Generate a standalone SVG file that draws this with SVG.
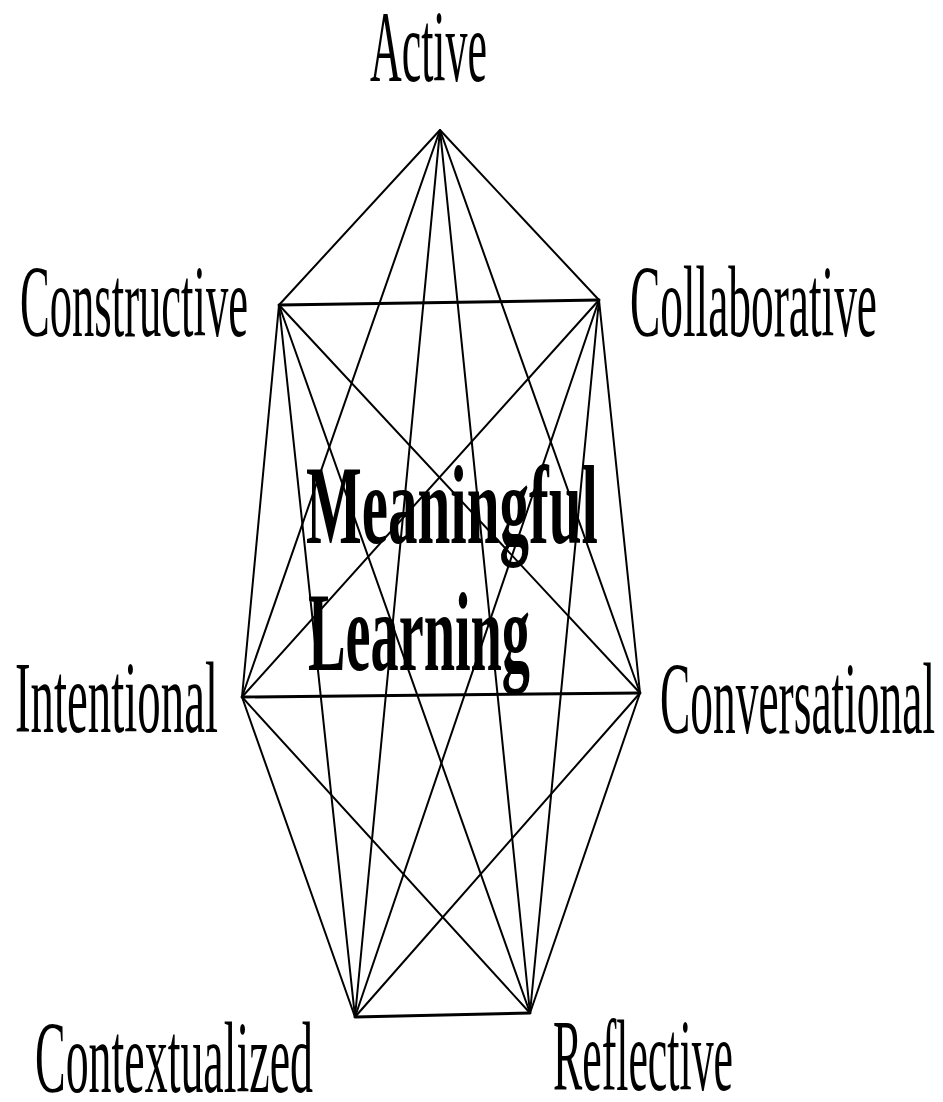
<svg xmlns="http://www.w3.org/2000/svg" width="943" height="1102" viewBox="0 0 943 1102">
<style>
text{font-family:"Liberation Serif","Times New Roman",serif;fill:#000}
.lbl{font-size:102px}
.ctr{font-size:112px;font-weight:bold}
.edge line{stroke:#000;stroke-width:2;stroke-linecap:round}
.edge .thick{stroke-width:3}
</style>
<rect width="943" height="1102" fill="#fff"/>
<g id="connectors" class="edge">
<line x1="440" y1="130" x2="279" y2="305"/>
<line x1="440" y1="130" x2="599" y2="300"/>
<line x1="440" y1="130" x2="242" y2="697"/>
<line x1="440" y1="130" x2="640" y2="693"/>
<line x1="440" y1="130" x2="355" y2="1017"/>
<line x1="440" y1="130" x2="530" y2="1013"/>
<line class="thick" x1="279" y1="305" x2="599" y2="300"/>
<line x1="279" y1="305" x2="242" y2="697"/>
<line x1="279" y1="305" x2="640" y2="693"/>
<line x1="279" y1="305" x2="355" y2="1017"/>
<line x1="279" y1="305" x2="530" y2="1013"/>
<line x1="599" y1="300" x2="242" y2="697"/>
<line x1="599" y1="300" x2="640" y2="693"/>
<line x1="599" y1="300" x2="355" y2="1017"/>
<line x1="599" y1="300" x2="530" y2="1013"/>
<line class="thick" x1="242" y1="697" x2="640" y2="693"/>
<line x1="242" y1="697" x2="355" y2="1017"/>
<line x1="242" y1="697" x2="530" y2="1013"/>
<line x1="640" y1="693" x2="355" y2="1017"/>
<line x1="640" y1="693" x2="530" y2="1013"/>
<line class="thick" x1="355" y1="1017" x2="530" y2="1013"/>
</g>
<g id="active"><text class="lbl" x="370" y="81" textLength="117" lengthAdjust="spacingAndGlyphs">Active</text></g>
<g id="constructive"><text class="lbl" x="20" y="336" textLength="228" lengthAdjust="spacingAndGlyphs">Constructive</text></g>
<g id="collaborative"><text class="lbl" x="630" y="336" textLength="247" lengthAdjust="spacingAndGlyphs">Collaborative</text></g>
<g id="intentional"><text class="lbl" x="15" y="732" textLength="203" lengthAdjust="spacingAndGlyphs">Intentional</text></g>
<g id="conversational"><text class="lbl" x="660" y="733" textLength="275" lengthAdjust="spacingAndGlyphs">Conversational</text></g>
<g id="contextualized"><text class="lbl" x="35" y="1092" textLength="278" lengthAdjust="spacingAndGlyphs">Contextualized</text></g>
<g id="reflective"><text class="lbl" x="553" y="1090" textLength="180" lengthAdjust="spacingAndGlyphs">Reflective</text></g>
<g id="meaningful-learning">
<text class="ctr" x="306" y="543" textLength="292" lengthAdjust="spacingAndGlyphs">Meaningful</text>
<text class="ctr" x="308" y="670" textLength="222" lengthAdjust="spacingAndGlyphs">Learning</text>
</g>
</svg>
